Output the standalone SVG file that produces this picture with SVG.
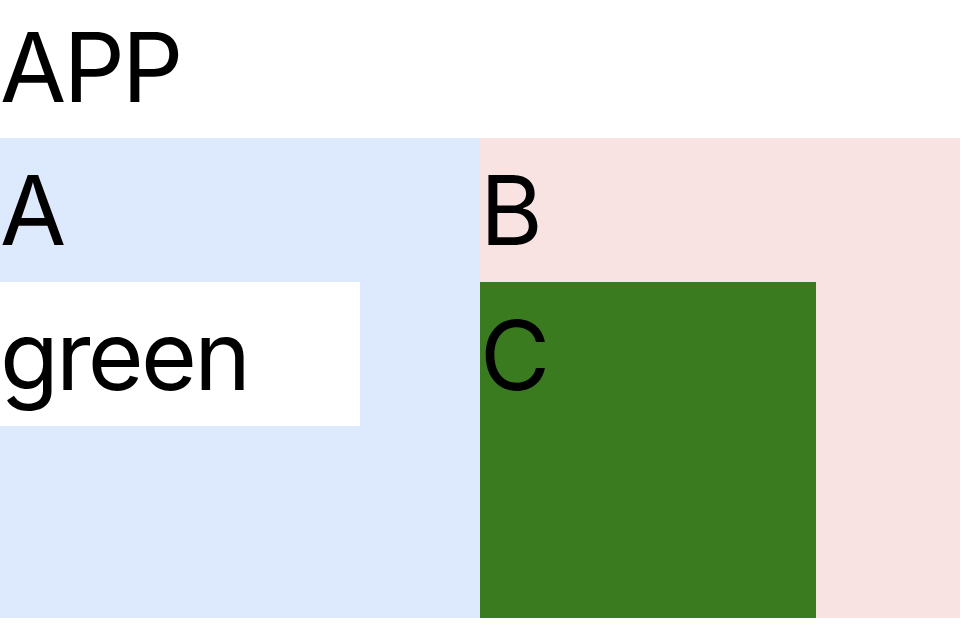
<svg xmlns="http://www.w3.org/2000/svg" width="978" height="628" viewBox="0 0 978 628">
<style>
text{font-family:Inter,"Noto Sans",sans-serif;font-size:96px;letter-spacing:-2.8px;fill:#000}
</style>
<rect x="0" y="0" width="978" height="628" fill="#ffffff"/>
<g id="app"><text x="0" y="102">APP</text></g>
<g id="a">
<rect x="0" y="138" width="480" height="480" fill="#dde9fc"/>
<text x="0" y="245">A</text>
</g>
<g id="green">
<rect x="0" y="282" width="360" height="144" fill="#ffffff"/>
<text x="0" y="390">green</text>
</g>
<g id="b">
<rect x="480" y="138" width="480" height="480" fill="#f8e2e2"/>
<text x="480" y="245">B</text>
</g>
<g id="c">
<rect x="480" y="282" width="336" height="336" fill="#3b7b1f"/>
<text x="480" y="390">C</text>
</g>
<g id="connectors"/>
</svg>
